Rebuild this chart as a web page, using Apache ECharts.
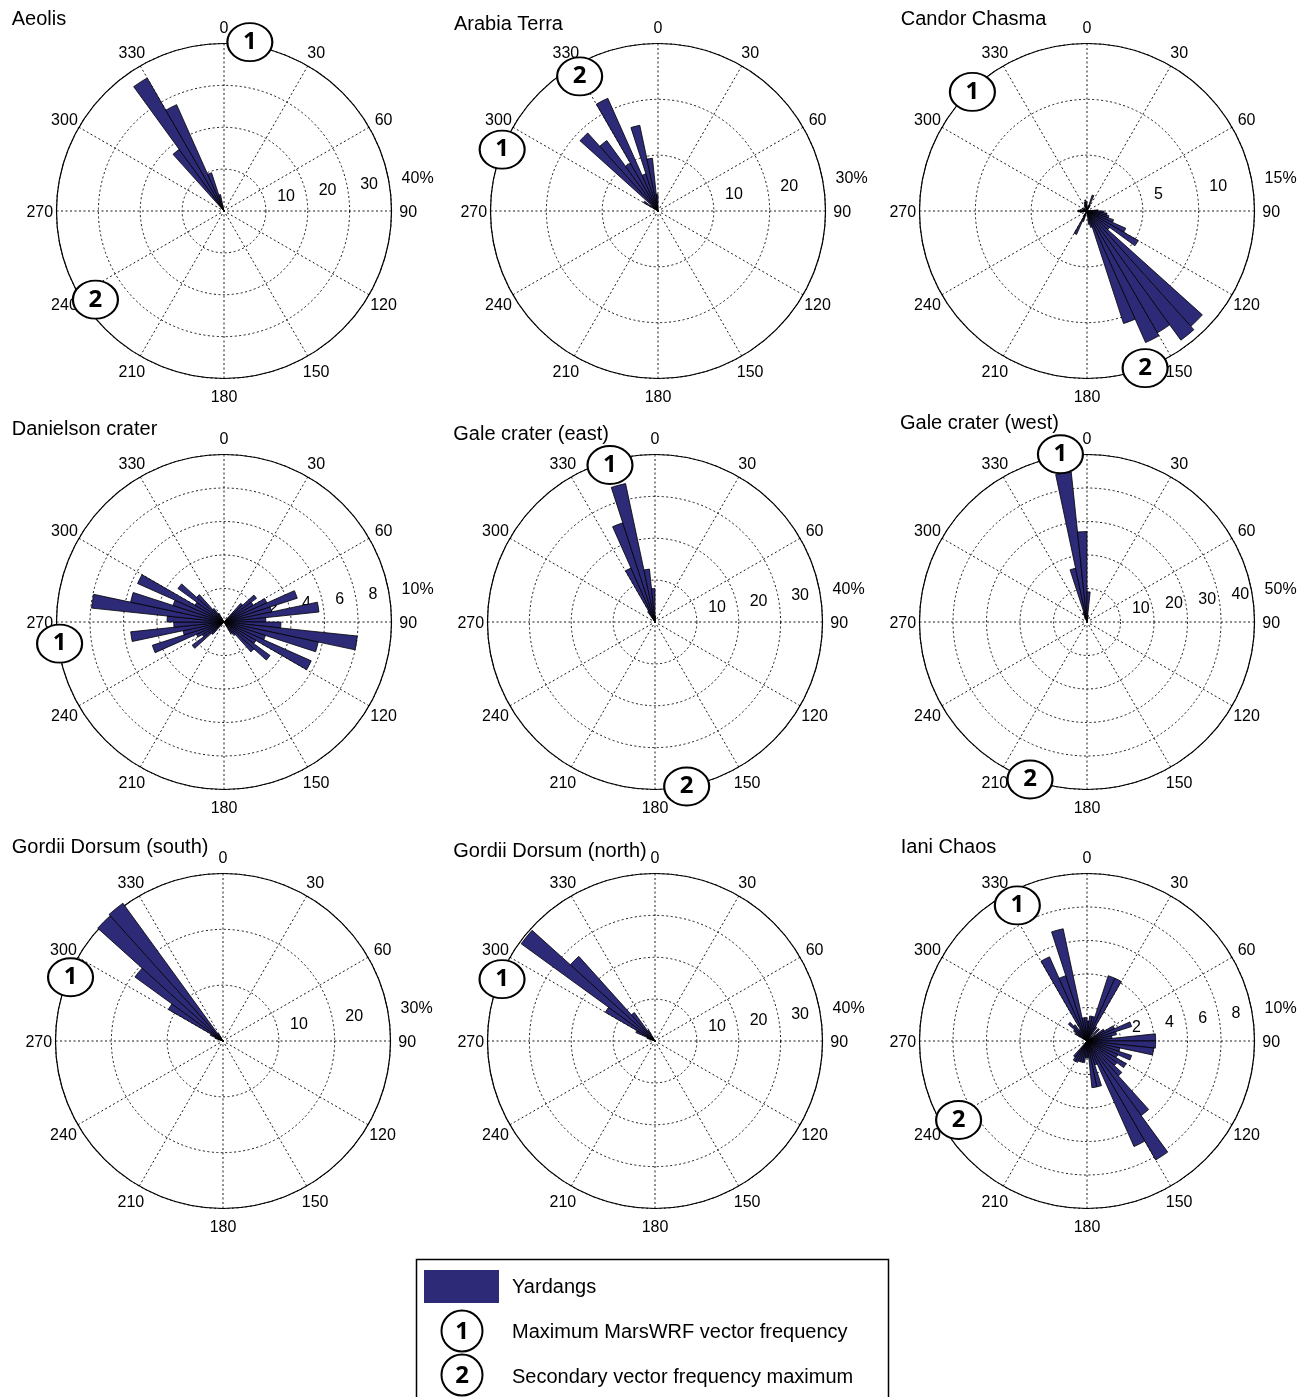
<!DOCTYPE html>
<html><head><meta charset="utf-8">
<script src="https://cdn.jsdelivr.net/npm/echarts@6/dist/echarts.min.js"></script>
<style>html,body{margin:0;padding:0;background:#fff}#c{width:1305px;height:1397px}</style>
</head><body><div id="c"></div>
<script>
// ---------------- DATA ----------------
const titles = ['Aeolis','Arabia Terra','Candor Chasma','Danielson crater','Gale crater (east)','Gale crater (west)','Gordii Dorsum (south)','Gordii Dorsum (north)','Iani Chaos'];
const radiusMax  = [40, 30, 15, 10, 40, 50, 30, 40, 10];
const radiusStep = [10, 10, 5, 2, 10, 10, 10, 10, 2];
const angleTicks = [0, 30, 60, 90, 120, 150, 180, 210, 240, 270, 300, 330];

// yardang orientation frequency (%) per 6-degree bin (bin centres in degrees)
const aeolisDir = [321, 327, 333, 339, 345];
const aeolisPct = [18.2, 36.7, 27.8, 9.6, 4.0];

const arabiaDir = [303, 309, 315, 321, 327, 333, 339, 345, 351, 357];
const arabiaPct = [3.0, 1.5, 18.8, 15.6, 9.9, 22.1, 7.0, 15.7, 9.5, 3.0];

const candorDir = [15, 21, 27, 87, 93, 99, 105, 111, 117, 123, 129, 135, 141, 147, 153, 159, 165, 171, 201, 207, 213, 261, 267, 273, 279, 297, 315, 339, 345, 351, 357];
const candorPct = [0.5, 1.5, 0.6, 1.0, 1.5, 1.8, 2.0, 2.5, 3.8, 5.3, 2.5, 13.9, 14.3, 12.6, 12.9, 10.6, 1.5, 1.2, 1.0, 2.3, 0.6, 0.6, 0.8, 0.8, 0.6, 0.5, 0.4, 0.6, 0.8, 1.0, 0.8];

const danielsonDir = [45, 51, 57, 63, 69, 75, 81, 87, 93, 99, 105, 111, 117, 123, 129, 135, 141, 147, 225, 231, 237, 243, 249, 255, 261, 267, 273, 279, 285, 291, 297, 303, 309, 315, 321, 327];
const danielsonPct = [1.5, 2.4, 2.0, 2.8, 4.6, 2.9, 5.7, 2.5, 3.4, 8.0, 5.75, 2.6, 5.7, 2.2, 3.4, 2.4, 1.0, 0.8, 1.0, 2.35, 1.5, 1.8, 4.5, 2.5, 5.6, 3.0, 3.4, 7.95, 5.7, 3.2, 5.65, 2.0, 3.4, 2.2, 1.0, 0.6];

const galeEastDir = [327, 333, 339, 345, 351, 357, 3];
const galeEastPct = [3.0, 14.1, 24.9, 33.8, 12.7, 8.0, 1.5];

const galeWestDir = [339, 345, 351, 357, 3, 9];
const galeWestPct = [3.0, 16.4, 45.0, 27.0, 9.0, 2.0];

const gordiiSouthDir = [291, 297, 303, 309, 315, 321, 327];
const gordiiSouthPct = [1.5, 2.5, 11.3, 19.5, 30.2, 30.5, 1.5];

const gordiiNorthDir = [291, 297, 303, 309, 315, 321, 327];
const gordiiNorthPct = [2.0, 5.0, 13.7, 39.5, 27.2, 8.4, 3.0];

const ianiDir = [3, 9, 15, 21, 27, 33, 45, 57, 63, 69, 75, 81, 87, 93, 99, 105, 111, 117, 123, 129, 135, 141, 147, 153, 159, 165, 171, 177, 183, 189, 195, 201, 207, 213, 219, 303, 309, 315, 321, 327, 333, 339, 345, 351, 357];
const ianiPct = [1.2, 1.5, 1.5, 4.1, 4.1, 1.0, 1.0, 1.2, 1.8, 2.8, 1.8, 1.5, 4.1, 4.1, 4.0, 2.0, 2.8, 2.0, 2.7, 2.2, 2.8, 5.5, 8.2, 6.9, 1.5, 2.8, 2.8, 1.0, 1.0, 1.3, 1.3, 1.3, 1.4, 1.4, 1.2, 0.8, 1.0, 1.5, 1.2, 0.8, 5.5, 4.1, 6.85, 1.4, 1.4];

// MarsWRF vector frequency maxima: direction (deg), radial position (% scale), marker label
const aeolisPeakDir = [8.7, 235.4],   aeolisPeakR = [40.8, 37.3],   aeolisPeakLbl = ['1', '2'];
const arabiaPeakDir = [291.5, 329.8], arabiaPeakR = [30.0, 27.9],   arabiaPeakLbl = ['1', '2'];
const candorPeakDir = [316.1, 159.7], candorPeakR = [14.8, 15.0],   candorPeakLbl = ['1', '2'];
const danielsonPeakDir = [262.5],     danielsonPeakR = [9.9],       danielsonPeakLbl = ['1'];
const galeEastPeakDir = [344, 169.1], galeEastPeakR = [39.0, 40.0], galeEastPeakLbl = ['1', '2'];
const galeWestPeakDir = [351, 199.9], galeWestPeakR = [50.7, 50.0], galeWestPeakLbl = ['1', '2'];
const gordiiSouthPeakDir = [292.7],   gordiiSouthPeakR = [29.6],    gordiiSouthPeakLbl = ['1'];
const gordiiNorthPeakDir = [292],     gordiiNorthPeakR = [39.4],    gordiiNorthPeakLbl = ['1'];
const ianiPeakDir = [332.8, 238.4],   ianiPeakR = [9.1, 9.0],       ianiPeakLbl = ['1', '2'];

const legendLabels = ['Yardangs', 'Maximum MarsWRF vector frequency', 'Secondary vector frequency maximum'];

// ---------------- LAYOUT / STYLE ----------------
const BAR_COLOR = '#2d2a78';
const FONT = '"Liberation Sans", Arial, Helvetica, sans-serif';
const centers = [[224,211],[658,211],[1087,211],[224,622],[655,622],[1087,622],[223,1041],[655,1041],[1087,1041]];
const R = 167.5;
const titlePos = [[11.7,18.3],[454,23.3],[900.7,18.3],[11.7,428.3],[453.3,433.3],[900,422.7],[11.7,846],[453.3,850.7],[900.7,846]];
const ELLIPSE = 'path://M50,0 C77.6,0 100,22.4 100,50 C100,77.6 77.6,100 50,100 C22.4,100 0,77.6 0,50 C0,22.4 22.4,0 50,0 Z';

// Angle labels are centred on a circle of 1.1*R (as in the original figure).
// ECharts anchors the label box edge at R+margin, so each label gets a box whose
// size puts its centre on the 1.1*R circle (shifted down DY px for glyph optics).
const LABEL_MARGIN = -20;
const DY = 2;
const labelDepth = 0.1 * R - LABEL_MARGIN;
const angleRich = {};
angleTicks.forEach(v => {
  const a = v * Math.PI / 180;
  const rr = R + LABEL_MARGIN;
  const hCentered = Math.abs(rr * Math.sin(a)) / R < 0.3;
  const vCentered = Math.abs(rr * Math.cos(a)) / R < 0.3;
  const w = hCentered ? 40 : 2 * labelDepth * Math.abs(Math.sin(a));
  const h = vCentered ? 20 : 2 * (labelDepth * Math.abs(Math.cos(a)) - DY);
  angleRich['a' + v] = {width: w, height: h, lineHeight: h, align: 'center', verticalAlign: 'middle',
    fontSize: 16, fontFamily: FONT, color: '#000'};
});

const barSets = [
  [aeolisDir, aeolisPct], [arabiaDir, arabiaPct], [candorDir, candorPct],
  [danielsonDir, danielsonPct], [galeEastDir, galeEastPct], [galeWestDir, galeWestPct],
  [gordiiSouthDir, gordiiSouthPct], [gordiiNorthDir, gordiiNorthPct], [ianiDir, ianiPct]
];
const peakSets = [
  [aeolisPeakDir, aeolisPeakR, aeolisPeakLbl], [arabiaPeakDir, arabiaPeakR, arabiaPeakLbl],
  [candorPeakDir, candorPeakR, candorPeakLbl], [danielsonPeakDir, danielsonPeakR, danielsonPeakLbl],
  [galeEastPeakDir, galeEastPeakR, galeEastPeakLbl], [galeWestPeakDir, galeWestPeakR, galeWestPeakLbl],
  [gordiiSouthPeakDir, gordiiSouthPeakR, gordiiSouthPeakLbl], [gordiiNorthPeakDir, gordiiNorthPeakR, gordiiNorthPeakLbl],
  [ianiPeakDir, ianiPeakR, ianiPeakLbl]
];

const polar = [], angleAxis = [], radiusAxis = [], series = [], title = [];
const dash = {color: '#000', width: 0.9, type: [2, 2.5]};

titles.forEach((t, i) => {
  polar.push({center: centers[i], radius: R});
  angleAxis.push({
    polarIndex: i, type: 'value', min: 0, max: 360, interval: 30, startAngle: 90, clockwise: true,
    axisLine: {show: true, lineStyle: {color: '#000', width: 1.2}},
    axisTick: {show: false},
    axisLabel: {show: true, margin: LABEL_MARGIN, padding: [2 * DY, 0, 0, 0], fontSize: 16, fontFamily: FONT, color: '#000',
      formatter: v => (v >= 360 ? '' : '{a' + v + '|' + v + '}'), rich: angleRich},
    splitLine: {show: true, lineStyle: dash}
  });
  radiusAxis.push({
    polarIndex: i, type: 'value', min: 0, max: radiusMax[i], interval: radiusStep[i],
    axisLine: {show: false}, axisTick: {show: false}, axisLabel: {show: false},
    splitLine: {show: true, lineStyle: dash}
  });
  title.push({
    text: t, left: titlePos[i][0], top: titlePos[i][1] - 9, padding: 0,
    textStyle: {fontSize: 20, fontWeight: 'normal', color: '#000', fontFamily: FONT}
  });
  const [dirs, pcts] = barSets[i];
  series.push({
    type: 'bar', coordinateSystem: 'polar', polarIndex: i, barWidth: 6, clip: false,
    data: dirs.map((d, k) => [pcts[k], d]),
    itemStyle: {color: BAR_COLOR, borderColor: '#000', borderWidth: 0.8},
    z: 3, silent: true, animation: false
  });
  const [pd, pr, pl] = peakSets[i];
  series.push({
    type: 'scatter', coordinateSystem: 'polar', polarIndex: i, clip: false,
    symbol: ELLIPSE, symbolSize: [45, 38],
    data: pd.map((d, k) => ({name: pl[k], value: [pr[k], d]})),
    itemStyle: {color: '#fff', borderColor: '#000', borderWidth: 2, opacity: 1},
    label: {show: true, position: 'inside', formatter: '{b}', fontSize: 24, fontWeight: 'bold',
      fontFamily: '"Open Sans", "Noto Sans", sans-serif', color: '#000'},
    z: 6, silent: true, animation: false
  });
});
// second polar per panel: only carries radius tick labels along the 82 deg (compass) direction
titles.forEach((t, i) => {
  polar.push({center: centers[i], radius: R});
  angleAxis.push({polarIndex: 9 + i, type: 'value', min: 0, max: 360, startAngle: 8, clockwise: true, show: false});
  radiusAxis.push({
    polarIndex: 9 + i, type: 'value', min: 0, max: radiusMax[i], interval: radiusStep[i],
    axisLine: {show: false}, axisTick: {show: false}, splitLine: {show: false},
    axisLabel: {show: true, showMinLabel: false, align: 'left', verticalAlign: 'middle', margin: 9,
      padding: [0, 0, 0, 13], fontSize: 16, fontFamily: FONT, color: '#000',
      formatter: v => (v === radiusMax[i] ? v + '%' : String(v))}
  });
});

const LFS = 20;
const graphic = [
  {type: 'rect', shape: {x: 416.5, y: 1259.5, width: 472, height: 160}, style: {fill: 'none', stroke: '#000', lineWidth: 1.5}},
  {type: 'rect', shape: {x: 424, y: 1270, width: 75, height: 33}, style: {fill: BAR_COLOR}},
  {type: 'text', x: 512, y: 1287, style: {text: legendLabels[0], fontSize: LFS, fontFamily: FONT, fill: '#000', verticalAlign: 'middle'}},
  {type: 'circle', shape: {cx: 462, cy: 1331, r: 20.5}, style: {fill: '#fff', stroke: '#000', lineWidth: 2}},
  {type: 'text', x: 462, y: 1332, style: {text: '1', fontSize: 24, fontWeight: 'bold', fontFamily: '"Open Sans", sans-serif', fill: '#000', align: 'center', verticalAlign: 'middle'}},
  {type: 'text', x: 512, y: 1332, style: {text: legendLabels[1], fontSize: LFS, fontFamily: FONT, fill: '#000', verticalAlign: 'middle'}},
  {type: 'circle', shape: {cx: 462, cy: 1375, r: 20.5}, style: {fill: '#fff', stroke: '#000', lineWidth: 2}},
  {type: 'text', x: 462, y: 1376, style: {text: '2', fontSize: 24, fontWeight: 'bold', fontFamily: '"Open Sans", sans-serif', fill: '#000', align: 'center', verticalAlign: 'middle'}},
  {type: 'text', x: 512, y: 1377, style: {text: legendLabels[2], fontSize: LFS, fontFamily: FONT, fill: '#000', verticalAlign: 'middle'}}
];

const chart = echarts.init(document.getElementById('c'), null, {renderer: 'canvas'});
chart.setOption({
  animation: false,
  backgroundColor: '#fff',
  title, polar, angleAxis, radiusAxis, series, graphic
});
</script>
</body></html>
